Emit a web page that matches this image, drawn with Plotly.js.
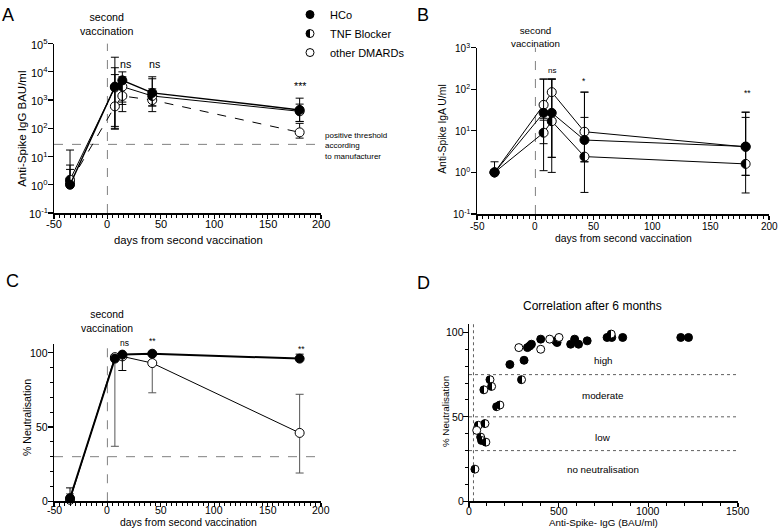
<!DOCTYPE html>
<html><head><meta charset="utf-8">
<script src="https://cdn.plot.ly/plotly-3.0.1.min.js"></script>
<style>body{margin:0;background:#fff;} #chart{width:778px;height:528px;}</style>
</head><body><div id="chart"></div>
<script>
const W = 778, H = 528;
const FONT = 'Liberation Sans, Arial, Helvetica, sans-serif';

// ---------------- data ----------------
const days = [-35, 7, 14, 42, 180];

// Panel A: Anti-Spike IgG BAU/ml
const A_HCo = [1.0, 3000, 5000, 1800, 450];
const A_TNF = [1.5, 2800, 3000, 1400, 400];
const A_oth = [1.2, 600, 1400, 1000, 72];
const A_HCo_hi = [5, 14000, 10000, 6700, 1170];
const A_HCo_lo = [1.0, 117, 850, 620, 175];
const A_TNF_hi = [17, 33000, 6700, 5700, 720];
const A_TNF_lo = [1.5, 93, 390, 390, 175];
const A_oth_hi = [3.5, 8000, 3000, 2500, 150];
const A_oth_lo = [1.2, 100, 700, 620, 45];
const A_threshold = 27;

// Panel B: Anti-Spike IgA U/ml
const B_HCo = [1.0, 27, 27, 6.0, 4.2];
const B_TNF = [1.0, 9, 17, 2.4, 1.6];
const B_oth = [1.0, 42, 85, 9.5, 4.1];
const B_HCo_hi = [1.8, 175, 175, 21, 21];
const B_HCo_lo = [1.0, 4.9, 2.3, 1.8, 0.85];
const B_TNF_hi = [1.0, 18, 175, 85, 28];
const B_TNF_lo = [1.0, 1.1, 1.0, 0.33, 0.32];
const B_oth_hi = [1.0, 175, 175, 85, 28];
const B_oth_lo = [1.0, 20, 2.3, 1.8, 0.85];

// Panel C: % Neutralisation
const C_HCo = [2, 96, 98.7, 99.3, 96];
const C_pat = [1, 97, 97.5, 93, 46];
const C_HCo_hi = [9, 96, 98.7, 99.3, 99];
const C_HCo_lo = [2, 96, 88, 99.3, 96];
const C_pat_hi = [5, 97, 97.5, 93, 72];
const C_pat_lo = [1, 37, 97.5, 73, 19];
const C_threshold = 30;

// Panel D: correlation after 6 months
const D_HCo_x = [228, 307, 326, 339, 348, 400, 483, 491, 567, 589, 611, 659, 770, 796, 857, 1181, 1224];
const D_HCo_y = [81, 83.5, 91, 92, 93, 96, 95, 94, 93, 96, 93, 95, 97, 97, 97, 97, 97];
const D_TNF_x = [117, 293, 83, 126, 154, 172, 52, 89, 65, 70, 94, 33, 793];
const D_TNF_y = [72, 72, 66, 68, 56, 57, 45, 46, 38, 36, 35, 19, 99];
const D_oth_x = [278, 400, 450, 502, 43];
const D_oth_y = [91, 90, 96, 97, 42];
const D_levels = [75, 50, 30];
const D_igg_threshold = 25;

// tick labels
const dayTicks = [-50, 0, 50, 100, 150, 200];
const dayTickText = ['-50', '0', '50', '100', '150', '200'];
const A_logTicks = [0.1, 1, 10, 100, 1000, 10000, 100000];
const B_logTicks = [0.1, 1, 10, 100, 1000];
const pctTicks = [0, 50, 100];
const iggTicks = [0, 500, 1000, 1500];

// ---------------- helpers ----------------
const dx = (a, b) => [a / W, b / W];
const dy = (t, b) => [1 - b / H, 1 - t / H];
const px = x => x / W;
const py = y => 1 - y / H;
const powText = v => '10<sup>' + Math.round(Math.log10(v)) + '</sup>';

function err(vals, hi, lo, color) {
  return {type: 'data', symmetric: false,
    array: hi.map((h, i) => Math.max(0, h - vals[i])),
    arrayminus: lo.map((l, i) => Math.max(0, vals[i] - l)),
    color: color || 'black', thickness: 1, width: 4};
}
const mHCo = {symbol: 'circle', size: 9, color: 'black', line: {color: 'black', width: 1}};
const mTNF = {symbol: 'circle', size: 9, color: 'black', gradient: {type: 'horizontal', color: 'white'}, line: {color: 'black', width: 1}};
const mOth = {symbol: 'circle', size: 9, color: 'white', line: {color: 'black', width: 1}};

function line(xa, ya, x, y, name, marker, lineSpec, e) {
  return {type: 'scatter', mode: 'lines+markers', x: x, y: y, name: name, xaxis: xa, yaxis: ya,
    marker: marker, line: lineSpec, error_y: e, showlegend: false, cliponaxis: false, hoverinfo: 'skip'};
}

const traces = [
  // A
  line('x', 'y', days, A_oth, 'other DMARDs', mOth, {color: 'black', width: 1, dash: 'dash'}, err(A_oth, A_oth_hi, A_oth_lo)),
  line('x', 'y', days, A_TNF, 'TNF Blocker', mTNF, {color: 'black', width: 1}, err(A_TNF, A_TNF_hi, A_TNF_lo)),
  line('x', 'y', days, A_HCo, 'HCo', mHCo, {color: 'black', width: 1.5}, err(A_HCo, A_HCo_hi, A_HCo_lo)),
  // B
  line('x2', 'y2', days, B_oth, 'other DMARDs', mOth, {color: 'black', width: 1}, err(B_oth, B_oth_hi, B_oth_lo)),
  line('x2', 'y2', days, B_TNF, 'TNF Blocker', mTNF, {color: 'black', width: 1}, err(B_TNF, B_TNF_hi, B_TNF_lo)),
  line('x2', 'y2', days, B_HCo, 'HCo', mHCo, {color: 'black', width: 1}, err(B_HCo, B_HCo_hi, B_HCo_lo)),
  // C
  line('x3', 'y3', days, C_pat, 'patients', mOth, {color: 'black', width: 1}, err(C_pat, C_pat_hi, C_pat_lo, '#555')),
  line('x3', 'y3', days, C_HCo, 'HCo', mHCo, {color: 'black', width: 2}, err(C_HCo, C_HCo_hi, C_HCo_lo)),
  // D (also legend)
  {type: 'scatter', mode: 'markers', x: D_HCo_x, y: D_HCo_y, name: 'HCo', xaxis: 'x4', yaxis: 'y4', marker: Object.assign({}, mHCo, {size: 8}), showlegend: true, cliponaxis: false, hoverinfo: 'skip'},
  {type: 'scatter', mode: 'markers', x: D_TNF_x, y: D_TNF_y, name: 'TNF Blocker', xaxis: 'x4', yaxis: 'y4', marker: Object.assign({}, mTNF, {size: 8}), showlegend: true, cliponaxis: false, hoverinfo: 'skip'},
  {type: 'scatter', mode: 'markers', x: D_oth_x, y: D_oth_y, name: 'other DMARDs', xaxis: 'x4', yaxis: 'y4', marker: Object.assign({}, mOth, {size: 8}), showlegend: true, cliponaxis: false, hoverinfo: 'skip'}
];

function minorSpec(d) { return {dtick: d, ticks: 'outside', ticklen: 3, tickwidth: 1, tickcolor: 'black', showgrid: false}; }
function axis(extra) {
  return Object.assign({showline: true, linecolor: 'black', linewidth: 1.5, ticks: 'outside', ticklen: 4.5, tickwidth: 1.2,
    tickcolor: 'black', showgrid: false, zeroline: false, fixedrange: true, showticklabels: false}, extra);
}

const layout = {
  width: W, height: H, margin: {l: 0, r: 0, t: 0, b: 0},
  paper_bgcolor: 'white', plot_bgcolor: 'rgba(0,0,0,0)',
  font: {family: FONT, color: 'black', size: 11},
  showlegend: true,
  legend: {x: px(290), y: py(-5), xanchor: 'left', yanchor: 'top', font: {size: 11}, bgcolor: 'rgba(0,0,0,0)', tracegroupgap: 0},
  xaxis: axis({domain: dx(54, 321), anchor: 'y', range: [-50, 200], tickvals: dayTicks, minor: minorSpec(5)}),
  yaxis: axis({domain: dy(39, 210), anchor: 'x', type: 'log', range: [-1, 5], tickvals: A_logTicks}),
  xaxis2: axis({domain: dx(477, 769), anchor: 'y2', range: [-50, 200], tickvals: dayTicks, minor: minorSpec(5)}),
  yaxis2: axis({domain: dy(43, 211), anchor: 'x2', type: 'log', range: [-1, 3], tickvals: B_logTicks}),
  xaxis3: axis({domain: dx(54, 321), anchor: 'y3', range: [-50, 200], tickvals: dayTicks, minor: minorSpec(5)}),
  yaxis3: axis({domain: dy(342, 501), anchor: 'x3', range: [0, 106], tickvals: pctTicks, minor: minorSpec(10)}),
  xaxis4: axis({domain: dx(469, 738), anchor: 'y4', range: [0, 1500], tickvals: iggTicks, minor: minorSpec(100)}),
  yaxis4: axis({domain: dy(322, 501), anchor: 'x4', range: [0, 105], tickvals: pctTicks, minor: minorSpec(10)}),
  shapes: [],
  annotations: []
};

// tick labels placed against the axes (GraphPad puts them tight to the axis)
function xTickLabels(xa, ya, vals, texts, shift, size) {
  vals.forEach((v, i) => layout.annotations.push({text: texts[i], xref: xa, x: v, yref: ya + ' domain', y: 0, yshift: -shift,
    xanchor: 'center', yanchor: 'middle', showarrow: false, font: {size: size, color: 'black', family: FONT}}));
}
function yTickLabels(xa, ya, vals, texts, range, isLog, shift, size) {
  vals.forEach((v, i) => {
    const t = isLog ? Math.log10(v) : v;
    layout.annotations.push({text: texts[i], xref: xa + ' domain', x: 0, xshift: -shift, yref: ya + ' domain',
      y: (t - range[0]) / (range[1] - range[0]), xanchor: 'right', yanchor: 'middle', showarrow: false,
      font: {size: size, color: 'black', family: FONT}});
  });
}
xTickLabels('x', 'y', dayTicks, dayTickText, 11, 11);
yTickLabels('x', 'y', A_logTicks, A_logTicks.map(powText), [-1, 5], true, 4, 11);
xTickLabels('x2', 'y2', dayTicks, dayTickText, 12, 10);
yTickLabels('x2', 'y2', B_logTicks, B_logTicks.map(powText), [-1, 3], true, 5, 10);
xTickLabels('x3', 'y3', dayTicks, dayTickText, 9, 10.5);
yTickLabels('x3', 'y3', pctTicks, pctTicks.map(String), [0, 106], false, 4, 10.5);
xTickLabels('x4', 'y4', iggTicks, iggTicks.map(String), 10, 10.5);
yTickLabels('x4', 'y4', pctTicks, pctTicks.map(String), [0, 105], false, 3, 10.5);

const dashGray = {color: '#808080', width: 1, dash: 'dash'};
const dotGray = {color: '#606060', width: 1, dash: 'dot'};
// vertical "second vaccination" lines at day 0
[['x', 'y'], ['x2', 'y2'], ['x3', 'y3']].forEach(([xa, ya]) => {
  layout.shapes.push({type: 'line', xref: xa, yref: ya + ' domain', x0: 0, x1: 0, y0: 0, y1: 1, line: dashGray, layer: 'below'});
});
layout.shapes.push({type: 'line', xref: 'x domain', yref: 'y', x0: 0, x1: 1, y0: A_threshold, y1: A_threshold, line: dashGray, layer: 'below'});
layout.shapes.push({type: 'line', xref: 'x3 domain', yref: 'y3', x0: 0, x1: 1, y0: C_threshold, y1: C_threshold, line: dashGray, layer: 'below'});
D_levels.forEach(v => layout.shapes.push({type: 'line', xref: 'x4 domain', yref: 'y4', x0: 0, x1: 1, y0: v, y1: v, line: dotGray, layer: 'below'}));
layout.shapes.push({type: 'line', xref: 'x4', yref: 'y4 domain', x0: D_igg_threshold, x1: D_igg_threshold, y0: 0, y1: 1, line: dotGray, layer: 'below'});

function ann(text, x, y, size, extra) {
  layout.annotations.push(Object.assign({text: text, xref: 'paper', yref: 'paper', x: px(x), y: py(y),
    xanchor: 'center', yanchor: 'middle', showarrow: false, font: {size: size, color: 'black', family: FONT}}, extra || {}));
}
// panel letters
ann('A', 8, 10, 18); ann('B', 423, 10, 18); ann('C', 12, 279, 18); ann('D', 424, 281, 18);
// axis titles
ann('days from second vaccination', 188, 237, 11.3);
ann('Anti-Spike IgG BAU/ml', 22, 125, 11.5, {textangle: -90});
ann('days from second vaccination', 623, 236, 10.4);
ann('Anti-Spike IgA U/ml', 443, 125, 10.4, {textangle: -90});
ann('days from second vaccination', 188, 522, 10.4);
ann('% Neutralisation', 27, 417, 10.6, {textangle: -90});
ann('Anti-Spike- IgG (BAU/ml)', 603, 522, 9.8);
ann('% Neutralisation', 445, 411, 9.8, {textangle: -90});
// second vaccination
ann('second<br>vaccination', 107, 19, 10.7);
ann('second<br>vaccination', 535, 32, 9.8);
ann('second<br>vaccination', 107, 320, 10.4);
// significance
ann('ns', 125, 60, 10.7); ann('ns', 154, 60, 10.7); ann('***', 300, 82, 10.7);
ann('ns', 552, 66, 8); ann('*', 584, 77, 8.5); ann('**', 747, 89, 8.5);
ann('ns', 124, 341, 8.5); ann('**', 152, 339, 8.5); ann('**', 301, 347, 8.5);
// threshold text
ann('positive threshold<br>according<br>to manufacturer', 323, 142, 8, {xanchor: 'left', align: 'left'});
// panel D title and zone labels
ann('Correlation after 6 months', 592, 304, 12);
ann('high', 603, 359, 9.8); ann('moderate', 603, 394, 9.8); ann('low', 603, 437, 9.8); ann('no neutralisation', 603, 469, 9.8);

Plotly.newPlot('chart', traces, layout, {staticPlot: true, displayModeBar: false}).then(gd => {
  // make the horizontal gradient a sharp half-filled circle (TNF Blocker)
  const NS = 'http://www.w3.org/2000/svg';
  gd.querySelectorAll('linearGradient').forEach(g => {
    g.setAttribute('x1', '0'); g.setAttribute('y1', '0'); g.setAttribute('x2', '1'); g.setAttribute('y2', '0');
    while (g.firstChild) g.removeChild(g.firstChild);
    [[0, 'black'], [0.5, 'black'], [0.5, 'white'], [1, 'white']].forEach(([o, c]) => {
      const s = document.createElementNS(NS, 'stop');
      s.setAttribute('offset', o); s.setAttribute('stop-color', c);
      g.appendChild(s);
    });
  });
});
</script>
</body></html>
